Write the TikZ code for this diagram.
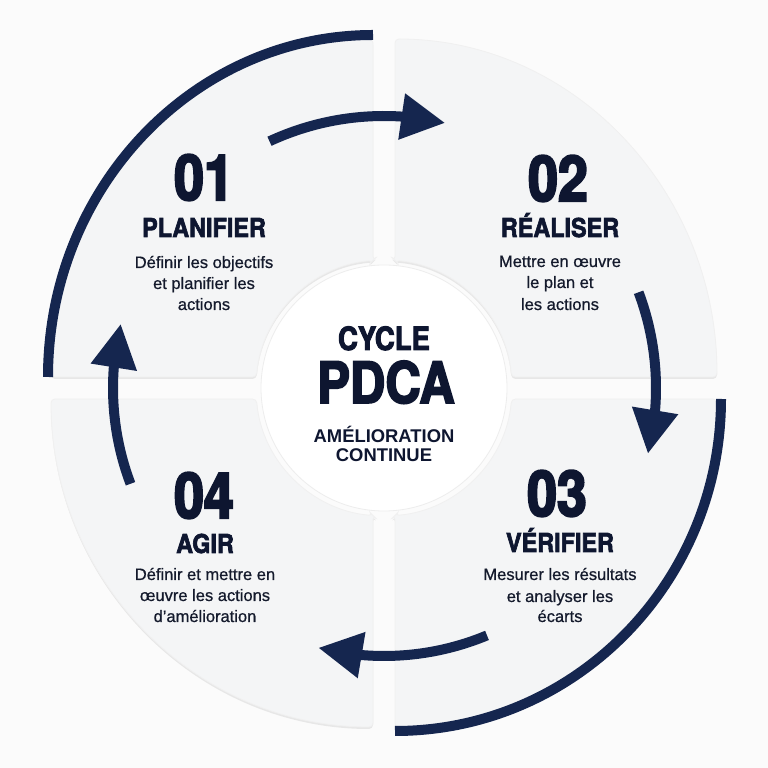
\documentclass[tikz,border=0pt]{standalone}
\usepackage{fontspec}
\usetikzlibrary{arrows.meta,bending,shadows}
\newfontfamily\numfont{TeX Gyre Heros}[FakeStretch=0.85,BoldFeatures={FakeBold=3.5}]
\newfontfamily\headfont{TeX Gyre Heros}[FakeStretch=0.9,BoldFeatures={FakeBold=2.5}]
\newfontfamily\cyclefont{TeX Gyre Heros}[FakeStretch=0.86,BoldFeatures={FakeBold=3}]
\newfontfamily\bodyfont{Liberation Sans}[FakeBold=0.7]
\newfontfamily\subfont{Liberation Sans}
\definecolor{navy}{HTML}{15264F}
\definecolor{ink}{HTML}{0E1630}
\definecolor{bodyink}{HTML}{141A2C}
\definecolor{bgcol}{HTML}{FBFBFB}
\definecolor{panelcol}{HTML}{F4F5F6}
\begin{document}
\begin{tikzpicture}[x=1pt,y=1pt,
  panel/.style={fill=panelcol,draw=black!6,line width=0.8pt,rounded corners=4pt,
    drop shadow={shadow xshift=0pt,shadow yshift=-2pt,opacity=0.08,fill=black}},
  outerarc/.style={draw=navy,line width=10pt,line cap=butt},
  cyclearrow/.style={draw=navy,line width=10pt,line cap=butt,-{Triangle[length=44pt,width=44pt]}},
  num/.style={anchor=base,inner sep=0pt,text=ink,font=\numfont\bfseries\fontsize{63}{63}\selectfont},
  head/.style={anchor=base,inner sep=0pt,text=ink,font=\headfont\bfseries\fontsize{26}{26}\selectfont},
  body/.style={anchor=base,inner sep=0pt,text=bodyink,font=\bodyfont\fontsize{16.5}{16.5}\selectfont},
  subtitle/.style={anchor=base,inner sep=0pt,text=ink,font=\subfont\bfseries\fontsize{18.4}{18.4}\selectfont}
]
\useasboundingbox (0,0) rectangle (768,768);
\fill[bgcol] (0,0) rectangle (768,768);
\coordinate (C) at (384,380);

% panels
\path[panel] (373,507.5) -- (373,729) arc[start angle=90,end angle=180,x radius=322pt,y radius=338pt]
  -- (256.5,391) arc[start angle=175.07,end angle=94.93,radius=128pt] -- cycle;
\path[panel] (395,507.5) -- (395,729) arc[start angle=90,end angle=0,x radius=322pt,y radius=338pt]
  -- (511.5,391) arc[start angle=4.93,end angle=85.07,radius=128pt] -- cycle;
\path[panel] (373,252.5) -- (373,41) arc[start angle=270,end angle=180,x radius=322pt,y radius=328pt]
  -- (256.5,369) arc[start angle=184.93,end angle=265.07,radius=128pt] -- cycle;
\path[panel] (395,252.5) -- (395,41) arc[start angle=270,end angle=360,x radius=322pt,y radius=328pt]
  -- (511.5,369) arc[start angle=-4.93,end angle=-85.07,radius=128pt] -- cycle;

% inner circle
\fill[white,draw=black!7,line width=0.8pt] (C) circle (123pt);

% outer navy arcs
\draw[outerarc] (373,733) arc[start angle=90,end angle=180,x radius=325pt,y radius=342pt];
\draw[outerarc] (721,369) arc[start angle=0,end angle=-90,x radius=326pt,y radius=332pt];

% cycle arrows
\draw[cyclearrow] ([shift={(114.9:272pt)}]C) arc[start angle=114.9,end angle=77,radius=272pt];
\draw[cyclearrow] ([shift={(20.6:272pt)}]C) arc[start angle=20.6,end angle=-14,radius=272pt];
\draw[cyclearrow] ([shift={(-67.4:268pt)}]C) arc[start angle=-67.4,end angle=-104.2,radius=268pt];
\draw[cyclearrow] ([shift={(200.7:271pt)}]C) arc[start angle=200.7,end angle=166.3,radius=271pt];

% quadrant 1
\node[num] (n1) at (204,568) {01};
\node[head] (h1) at (204,531) {PLANIFIER};
\node[body] (b1a) at (204,500) {Définir les objectifs};
\node[body] (b1b) at (204,479) {et planifier les};
\node[body] (b1c) at (204,458) {actions};

% quadrant 2
\node[num] (n2) at (558,567) {02};
\node[head] (h2) at (560,531) {RÉALISER};
\node[body] (b2a) at (560,501) {Mettre en œuvre};
\node[body] (b2b) at (560,480) {le plan et};
\node[body] (b2c) at (560,458) {les actions};

% quadrant 3
\node[num] (n3) at (557,252) {03};
\node[head] (h3) at (560,216) {VÉRIFIER};
\node[body] (b3a) at (560,188) {Mesurer les résultats};
\node[body] (b3b) at (560,166) {et analyser les};
\node[body] (b3c) at (560,146) {écarts};

% quadrant 4
\node[num] (n4) at (204,250) {04};
\node[head] (h4) at (205,215) {AGIR};
\node[body] (b4a) at (205,188) {Définir et mettre en};
\node[body] (b4b) at (205,167) {œuvre les actions};
\node[body] (b4c) at (205,146) {d’amélioration};

% centre
\node[anchor=base,inner sep=0pt,text=ink,font=\cyclefont\bfseries\fontsize{32}{32}\selectfont] (cyc) at (384,418) {CYCLE};
\node[anchor=base,inner sep=0pt,text=ink,font=\cyclefont\bfseries\fontsize{57}{57}\selectfont] (pdca) at (386,365) {PDCA};
\node[subtitle] (am) at (384,325) {AMÉLIORATION};
\node[subtitle] (co) at (384,306) {CONTINUE};
\end{tikzpicture}
\end{document}
